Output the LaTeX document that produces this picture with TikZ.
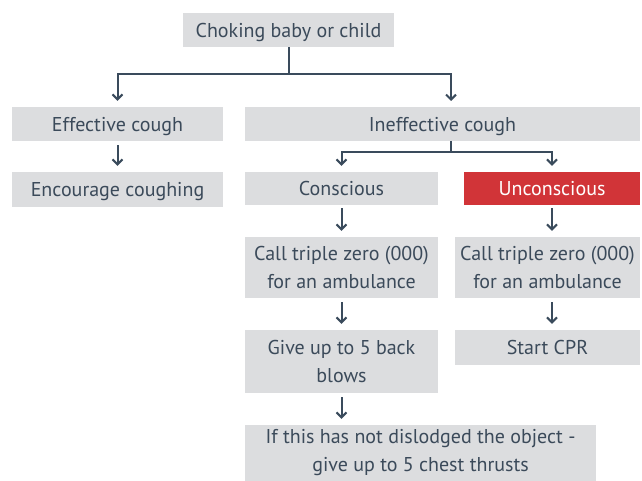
\documentclass[tikz,border=0pt]{standalone}
\usepackage{fontspec}
\setmainfont{PT Sans}
\usetikzlibrary{arrows.meta,calc}
\definecolor{boxgray}{HTML}{DCDDDF}
\definecolor{txt}{HTML}{3B4A5A}
\definecolor{ln}{HTML}{3A4B5C}
\definecolor{redbox}{HTML}{D13438}
\begin{document}
\begin{tikzpicture}[x=1pt,y=-1pt,
  box/.style={fill=boxgray,text=txt,inner sep=0pt,align=center,
    font=\fontsize{20}{28}\selectfont},
  one/.style={text depth=0pt},
  link/.style={draw=ln,line width=2pt},
  arr/.style={link,-{Straight Barb[length=5pt,width=10pt,line width=2pt]},shorten >=6pt}]
\useasboundingbox (0,0) rectangle (642,481);
\node[box,one,minimum width=211pt,minimum height=34pt] (top) at (288.5,30) {Choking baby or child};
\node[box,one,minimum width=211pt,minimum height=34pt] (eff) at (117.5,124) {Effective cough};
\node[box,one,minimum width=395pt,minimum height=34pt] (ineff) at (442.5,124) {Ineffective cough};
\node[box,one,minimum width=211pt,minimum height=35pt] (enc) at (117.5,189.5) {Encourage coughing};
\node[box,one,minimum width=193pt,minimum height=33pt] (cons) at (341.5,188.5) {Conscious};
\node[box,one,fill=redbox,text=white,minimum width=176pt,minimum height=33pt] (uncons) at (552,188.5) {Unconscious};
\node[box,minimum width=193pt,minimum height=61pt] (call1) at (341.5,267.5) {Call triple zero (000)\\for an ambulance};
\node[box,minimum width=185pt,minimum height=61pt] (call2) at (547.5,267.5) {Call triple zero (000)\\for an ambulance};
\node[box,minimum width=193pt,minimum height=63pt] (give) at (341.5,361.5) {Give up to 5 back\\blows};
\node[box,one,minimum width=185pt,minimum height=35pt] (cpr) at (547.5,347.5) {Start CPR};
\node[box,minimum width=351pt,minimum height=56pt] (ifn) at (420.5,453) {If this has not dislodged the object -\\give up to 5 chest thrusts};
% junctions
\coordinate (j1) at (288.5,74);
\coordinate (ia) at (451,107);
\coordinate (ib) at (451,141);
\coordinate (j2) at (451,152);
\draw[link] (top.south) -- (j1);
\draw[arr] (j1) -| (eff.north);
\draw[arr] (j1) -| (ia);
\draw[link] (ib) -- (j2);
\draw[arr] (j2) -| (cons.north);
\draw[arr] (j2) -| (uncons.north);
\draw[arr,shorten <=4pt] (eff.south) -- (enc.north);
\draw[arr,shorten <=3pt] (cons.south) -- (cons.south |- call1.north);
\draw[arr,shorten <=3pt] (uncons.south) -- (uncons.south |- call2.north);
\draw[arr,shorten <=4pt] (call1.south) -- (give.north);
\draw[arr,shorten <=4pt] (uncons.south |- call2.south) -- (uncons.south |- cpr.north);
\draw[arr,shorten <=4pt] (give.south) -- (give.south |- ifn.north);
\end{tikzpicture}
\end{document}
